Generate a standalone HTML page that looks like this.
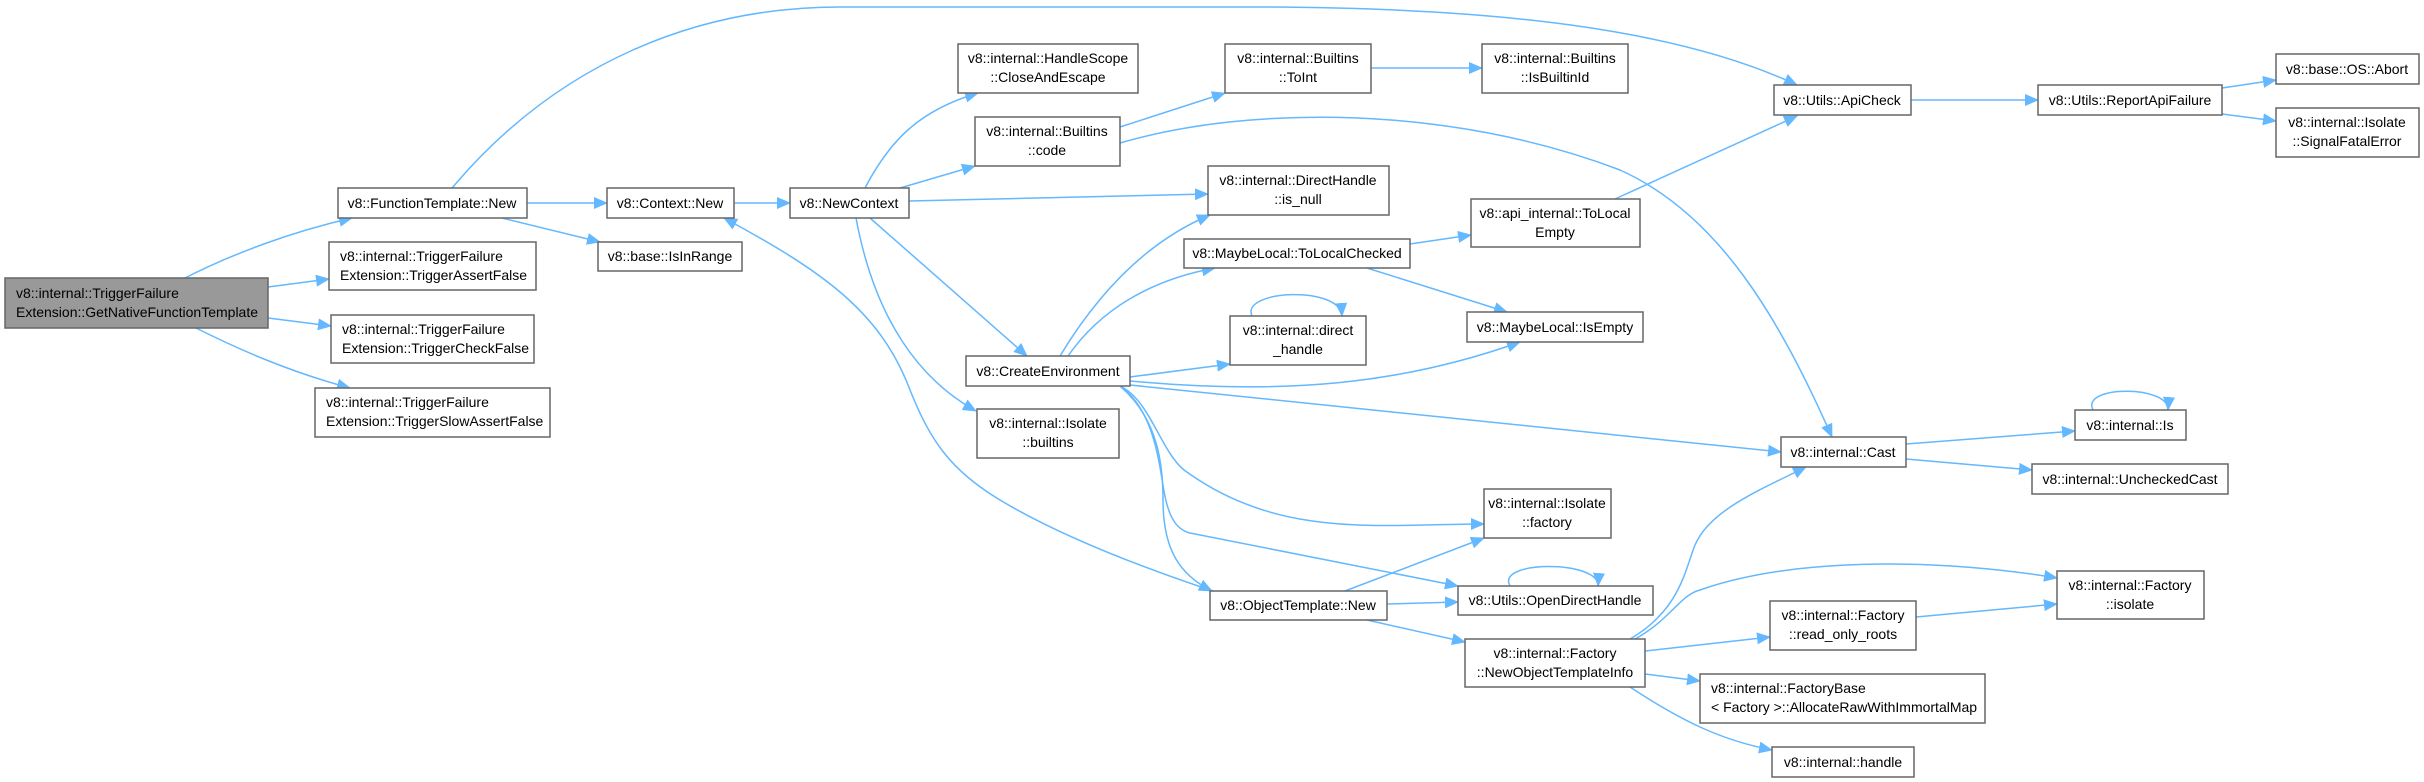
<!DOCTYPE html>
<html><head><meta charset="utf-8"><style>
html,body{margin:0;padding:0;background:#fff;}
svg{display:block;}
text{font-family:"Liberation Sans",sans-serif;font-size:14px;fill:#000;}
.n{fill:#fff;stroke:#666;stroke-width:1.5;}
.e{fill:none;stroke:#63b8ff;stroke-width:1.5;}
</style></head><body>
<svg width="2424" height="782" viewBox="0 0 2424 782" xmlns="http://www.w3.org/2000/svg">
<defs><marker id="a" markerUnits="userSpaceOnUse" markerWidth="14" markerHeight="12" refX="13" refY="6" orient="auto"><path d="M0,0 L14,6 L0,12 Z" fill="#63b8ff"/></marker></defs>
<g marker-end="url(#a)">
<path class="e" d="M185,278 C230,255 290,232 352,218"/>
<path class="e" d="M268,287 L329,279"/>
<path class="e" d="M268,318 L331,326"/>
<path class="e" d="M196,328 C240,350 290,372 350,388"/>
<path class="e" d="M452,188 C560,60 700,7 840,7 L1250,7 C1500,7 1680,30 1797,85"/>
<path class="e" d="M527,203 L607,203"/>
<path class="e" d="M502,218 L600,242"/>
<path class="e" d="M734,203 L790,203"/>
<path class="e" d="M865,188 C890,140 920,110 978,93"/>
<path class="e" d="M900,188 L975,166"/>
<path class="e" d="M909,201 L1208,194"/>
<path class="e" d="M870,218 L1027,356"/>
<path class="e" d="M856,218 C875,320 920,380 976,411"/>
<path class="e" d="M1120,127 L1225,93"/>
<path class="e" d="M1120,143 C1250,105 1450,105 1620,170 C1720,215 1780,320 1832,437"/>
<path class="e" d="M1371,68 L1482,68"/>
<path class="e" d="M1060,356 C1100,290 1150,240 1210,215"/>
<path class="e" d="M1068,356 C1100,310 1150,280 1215,268"/>
<path class="e" d="M1130,377 L1230,364"/>
<path class="e" d="M1130,381 C1280,395 1400,385 1520,342"/>
<path class="e" d="M1130,385 L1781,452"/>
<path class="e" d="M1120,386 C1150,400 1160,450 1184,470 C1280,540 1380,524 1484,524"/>
<path class="e" d="M1120,386 C1155,410 1160,470 1163,485 C1168,520 1178,530 1190,533 L1458,586"/>
<path class="e" d="M1120,386 C1160,420 1163,470 1163,500 C1163,550 1180,575 1212,591"/>
<path class="e" d="M1410,244 L1471,235"/>
<path class="e" d="M1367,268 L1507,312"/>
<path class="e" d="M1252,316 C1240,290 1340,285 1342,316"/>
<path class="e" d="M1615,199 L1797,116"/>
<path class="e" d="M1911,100 L2038,100"/>
<path class="e" d="M2222,88 L2276,80"/>
<path class="e" d="M2222,114 L2276,121"/>
<path class="e" d="M1906,444 L2075,431"/>
<path class="e" d="M1906,459 L2032,470"/>
<path class="e" d="M2093,410 C2080,385 2170,385 2168,410"/>
<path class="e" d="M1213,591 C1120,560 1050,530 1000,500 C950,470 930,440 910,390 C880,310 820,270 724,218"/>
<path class="e" d="M1345,591 L1484,538"/>
<path class="e" d="M1387,604 L1458,602"/>
<path class="e" d="M1367,620 L1465,642"/>
<path class="e" d="M1510,586 C1495,560 1600,560 1598,586"/>
<path class="e" d="M1630,639 C1680,610 1685,570 1695,545 C1710,510 1760,490 1806,467"/>
<path class="e" d="M1635,639 C1670,620 1680,595 1700,590 C1800,555 1950,560 2057,578"/>
<path class="e" d="M1645,651 L1770,637"/>
<path class="e" d="M1645,674 L1700,681"/>
<path class="e" d="M1630,687 C1680,720 1720,740 1772,750"/>
<path class="e" d="M1916,617 L2057,604"/>
</g>
<rect x="5" y="278" width="263" height="50" fill="#999" stroke="#666" stroke-width="1.5"/>
<text x="16" y="298">v8::internal::TriggerFailure</text><text x="16" y="317">Extension::GetNativeFunctionTemplate</text>
<rect class="n" x="338" y="188" width="189" height="30"/><text x="432" y="208" text-anchor="middle">v8::FunctionTemplate::New</text>
<rect class="n" x="329" y="242" width="207" height="48"/><text x="340" y="261">v8::internal::TriggerFailure</text><text x="340" y="280">Extension::TriggerAssertFalse</text>
<rect class="n" x="331" y="315" width="203" height="48"/><text x="342" y="334">v8::internal::TriggerFailure</text><text x="342" y="353">Extension::TriggerCheckFalse</text>
<rect class="n" x="315" y="388" width="235" height="49"/><text x="326" y="407">v8::internal::TriggerFailure</text><text x="326" y="426">Extension::TriggerSlowAssertFalse</text>
<rect class="n" x="607" y="188" width="127" height="30"/><text x="670" y="208" text-anchor="middle">v8::Context::New</text>
<rect class="n" x="598" y="242" width="144" height="29"/><text x="670" y="261" text-anchor="middle">v8::base::IsInRange</text>
<rect class="n" x="790" y="188" width="119" height="30"/><text x="849" y="208" text-anchor="middle">v8::NewContext</text>
<rect class="n" x="958" y="44" width="180" height="49"/><text x="1048" y="63" text-anchor="middle">v8::internal::HandleScope</text><text x="1048" y="82" text-anchor="middle">::CloseAndEscape</text>
<rect class="n" x="975" y="117" width="145" height="49"/><text x="1047" y="136" text-anchor="middle">v8::internal::Builtins</text><text x="1047" y="155" text-anchor="middle">::code</text>
<rect class="n" x="966" y="356" width="164" height="30"/><text x="1048" y="376" text-anchor="middle">v8::CreateEnvironment</text>
<rect class="n" x="977" y="409" width="142" height="49"/><text x="1048" y="428" text-anchor="middle">v8::internal::Isolate</text><text x="1048" y="447" text-anchor="middle">::builtins</text>
<rect class="n" x="1225" y="44" width="146" height="49"/><text x="1298" y="63" text-anchor="middle">v8::internal::Builtins</text><text x="1298" y="82" text-anchor="middle">::ToInt</text>
<rect class="n" x="1482" y="44" width="146" height="49"/><text x="1555" y="63" text-anchor="middle">v8::internal::Builtins</text><text x="1555" y="82" text-anchor="middle">::IsBuiltinId</text>
<rect class="n" x="1208" y="166" width="181" height="49"/><text x="1298" y="185" text-anchor="middle">v8::internal::DirectHandle</text><text x="1298" y="204" text-anchor="middle">::is_null</text>
<rect class="n" x="1184" y="239" width="226" height="29"/><text x="1297" y="258" text-anchor="middle">v8::MaybeLocal::ToLocalChecked</text>
<rect class="n" x="1471" y="199" width="169" height="48"/><text x="1555" y="218" text-anchor="middle">v8::api_internal::ToLocal</text><text x="1555" y="237" text-anchor="middle">Empty</text>
<rect class="n" x="1230" y="316" width="136" height="49"/><text x="1298" y="335" text-anchor="middle">v8::internal::direct</text><text x="1298" y="354" text-anchor="middle">_handle</text>
<rect class="n" x="1467" y="312" width="176" height="30"/><text x="1555" y="332" text-anchor="middle">v8::MaybeLocal::IsEmpty</text>
<rect class="n" x="1774" y="85" width="137" height="30"/><text x="1842" y="105" text-anchor="middle">v8::Utils::ApiCheck</text>
<rect class="n" x="2038" y="85" width="184" height="30"/><text x="2130" y="105" text-anchor="middle">v8::Utils::ReportApiFailure</text>
<rect class="n" x="2276" y="54" width="143" height="30"/><text x="2347" y="74" text-anchor="middle">v8::base::OS::Abort</text>
<rect class="n" x="2276" y="108" width="143" height="49"/><text x="2347" y="127" text-anchor="middle">v8::internal::Isolate</text><text x="2347" y="146" text-anchor="middle">::SignalFatalError</text>
<rect class="n" x="1781" y="437" width="125" height="30"/><text x="1843" y="457" text-anchor="middle">v8::internal::Cast</text>
<rect class="n" x="2075" y="410" width="111" height="30"/><text x="2130" y="430" text-anchor="middle">v8::internal::Is</text>
<rect class="n" x="2032" y="464" width="196" height="30"/><text x="2130" y="484" text-anchor="middle">v8::internal::UncheckedCast</text>
<rect class="n" x="1484" y="489" width="127" height="49"/><text x="1547" y="508" text-anchor="middle">v8::internal::Isolate</text><text x="1547" y="527" text-anchor="middle">::factory</text>
<rect class="n" x="1210" y="591" width="177" height="29"/><text x="1298" y="610" text-anchor="middle">v8::ObjectTemplate::New</text>
<rect class="n" x="1458" y="586" width="195" height="29"/><text x="1555" y="605" text-anchor="middle">v8::Utils::OpenDirectHandle</text>
<rect class="n" x="1465" y="639" width="180" height="48"/><text x="1555" y="658" text-anchor="middle">v8::internal::Factory</text><text x="1555" y="677" text-anchor="middle">::NewObjectTemplateInfo</text>
<rect class="n" x="2057" y="571" width="147" height="48"/><text x="2130" y="590" text-anchor="middle">v8::internal::Factory</text><text x="2130" y="609" text-anchor="middle">::isolate</text>
<rect class="n" x="1770" y="601" width="146" height="49"/><text x="1843" y="620" text-anchor="middle">v8::internal::Factory</text><text x="1843" y="639" text-anchor="middle">::read_only_roots</text>
<rect class="n" x="1700" y="674" width="285" height="49"/><text x="1711" y="693">v8::internal::FactoryBase</text><text x="1711" y="712">&lt; Factory &gt;::AllocateRawWithImmortalMap</text>
<rect class="n" x="1772" y="747" width="142" height="30"/><text x="1843" y="767" text-anchor="middle">v8::internal::handle</text>
</svg>
</body></html>
